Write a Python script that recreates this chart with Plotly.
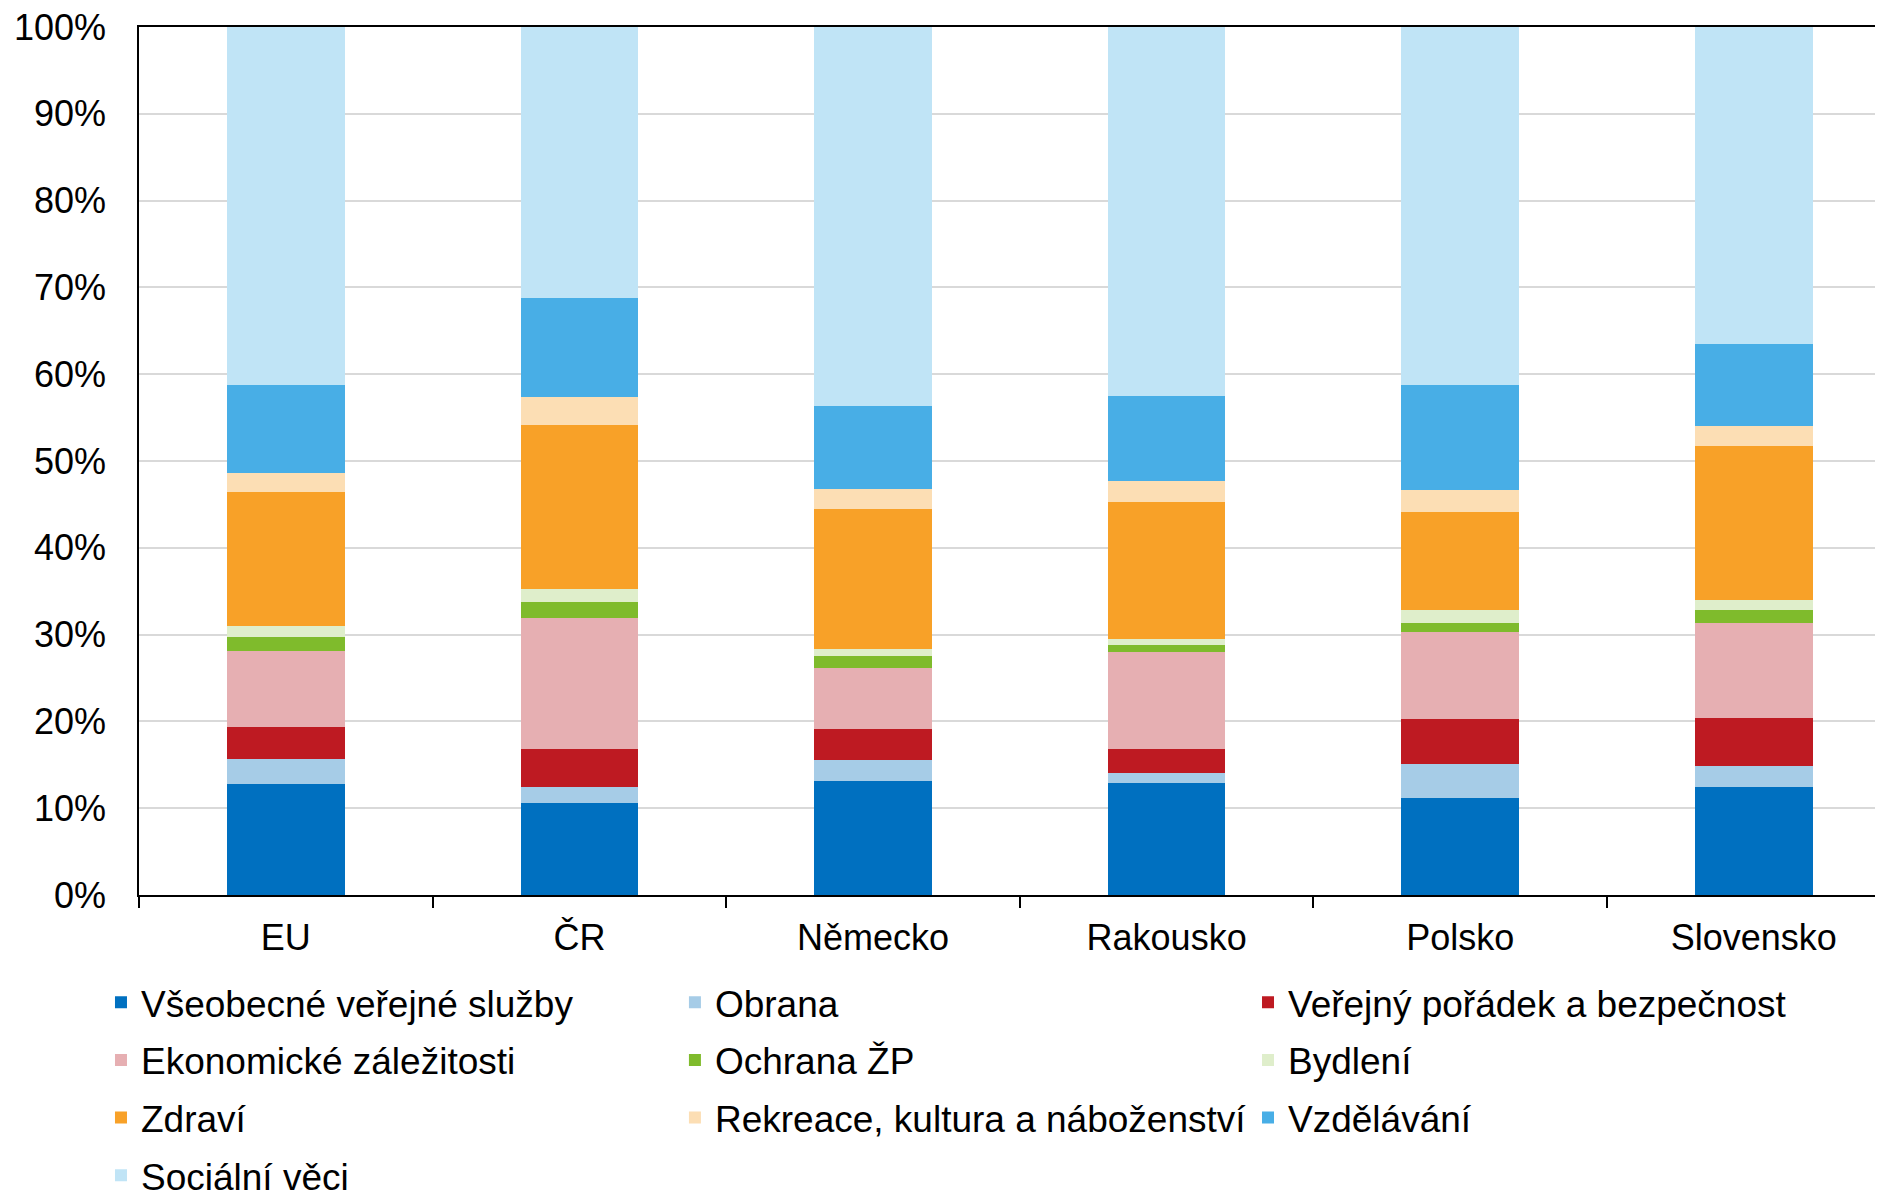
import plotly.graph_objects as go

zeme = ['EU', 'ČR', 'Německo', 'Rakousko', 'Polsko', 'Slovensko']

# podíly výdajů (%), čteno z grafu
sluzby = [12.8, 10.6, 13.1, 12.9, 11.2, 12.5]
obrana = [2.9, 1.8, 2.4, 1.2, 3.9, 2.4]
poradek = [3.7, 4.4, 3.6, 2.7, 5.2, 5.5]
ekonomika = [8.7, 15.1, 7.0, 11.2, 10.0, 10.9]
zp = [1.6, 1.8, 1.4, 0.8, 1.0, 1.5]
bydleni = [1.3, 1.5, 0.8, 0.7, 1.5, 1.2]
zdravi = [15.4, 18.9, 16.2, 15.8, 11.3, 17.7]
rekreace = [2.2, 3.3, 2.3, 2.4, 2.6, 2.3]
vzdelavani = [10.2, 11.4, 9.5, 9.8, 12.1, 9.5]
socialni = [41.2, 31.2, 43.7, 42.5, 41.2, 36.5]

y_ticks = [0, 10, 20, 30, 40, 50, 60, 70, 80, 90, 100]

serie = [
    ('Všeobecné veřejné služby', sluzby, '#0070C0', 'legend'),
    ('Obrana', obrana, '#A6CCE7', 'legend2'),
    ('Veřejný pořádek a bezpečnost', poradek, '#BE1A22', 'legend3'),
    ('Ekonomické záležitosti', ekonomika, '#E6AFB2', 'legend'),
    ('Ochrana ŽP', zp, '#7FBB2C', 'legend2'),
    ('Bydlení', bydleni, '#DFEECB', 'legend3'),
    ('Zdraví', zdravi, '#F8A128', 'legend'),
    ('Rekreace, kultura a náboženství', rekreace, '#FCDEB4', 'legend2'),
    ('Vzdělávání', vzdelavani, '#48AEE6', 'legend3'),
    ('Sociální věci', socialni, '#C0E4F6', 'legend'),
]

FONT = 'Liberation Sans, Arial, sans-serif'

fig = go.Figure()
for name, vals, col, leg in serie:
    fig.add_trace(go.Bar(
        x=zeme, y=vals, name=name,
        marker_color=col, marker_line_width=0,
        legend=leg, legendgroup=name,
    ))

leg_style = dict(
    orientation='v', yanchor='top', y=-0.0885, xanchor='left',
    traceorder='grouped', tracegroupgap=6.5,
    font=dict(family=FONT, size=37, color='black'),
    bgcolor='rgba(0,0,0,0)', borderwidth=0,
)

# stránka má 8px okraj, proto je figura o 8px menší
fig.update_layout(
    barmode='stack',
    bargap=0.6,
    width=1875, height=1184,
    margin=dict(l=131, r=0, t=19, b=297, autoexpand=False),
    plot_bgcolor='white',
    paper_bgcolor='white',
    font=dict(family=FONT, size=36, color='black'),
    legend=dict(leg_style, x=-0.0218),
    legend2=dict(leg_style, x=0.3073),
    legend3=dict(leg_style, x=0.6359),
)

fig.update_xaxes(
    range=[-0.5, 5.44],
    showline=True, linecolor='black', linewidth=1.5, mirror=True,
    ticks='outside', ticklen=11, tickcolor='black', tickwidth=1.5,
    tickson='boundaries',
    ticklabelstandoff=10,
    tickfont=dict(size=36),
    showgrid=False,
)

fig.update_yaxes(
    range=[0, 100],
    tickvals=y_ticks,
    ticktext=[f'{v}%' for v in y_ticks],
    showline=True, linecolor='black', linewidth=1.5,
    showgrid=True, gridcolor='#D9D9D9', gridwidth=1.5,
    ticks='', ticklabelstandoff=24,
    ticklabeloverflow='allow',
    tickfont=dict(size=36),
    zeroline=False,
)

fig.write_html('out.html')
